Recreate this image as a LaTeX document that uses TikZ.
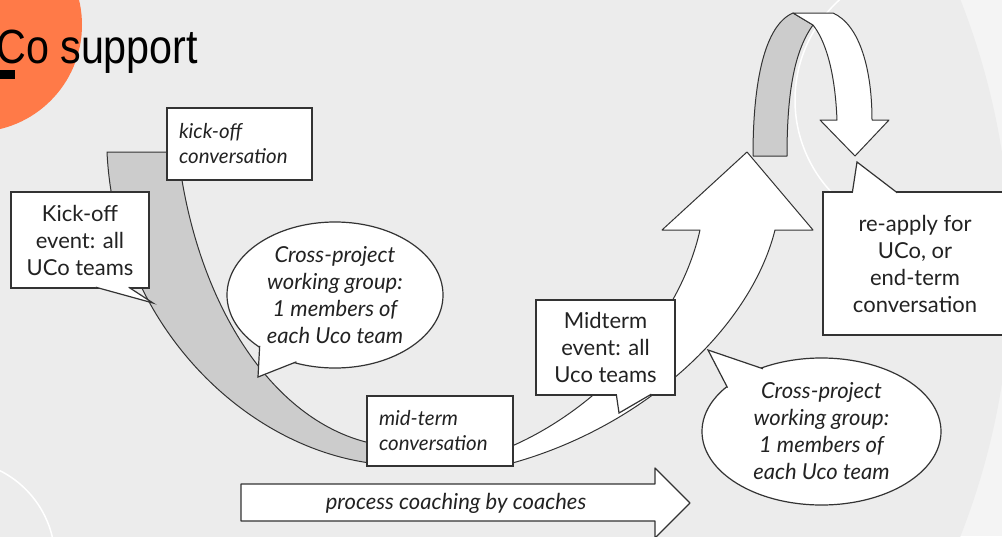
\documentclass[tikz,border=0pt]{standalone}
\usepackage{fontspec}
\setmainfont{Lato}
\newfontfamily\titlefont[FakeStretch=0.86]{Liberation Sans}
\usepackage{tikz}
\usetikzlibrary{calc,shapes.geometric}

\definecolor{bgin}{RGB}{236,236,236}
\definecolor{bgout}{RGB}{244,244,244}
\definecolor{coral}{RGB}{255,122,72}
\definecolor{bandgrey}{RGB}{204,204,204}
\definecolor{linec}{RGB}{51,51,51}
\definecolor{txt}{RGB}{34,34,34}

\begin{document}
\begin{tikzpicture}[x=1pt,y=-1pt,
   ribbon/.style={draw=linec, line width=1pt, line join=round},
   box/.style={draw=linec, fill=white, line width=1.4pt, inner sep=0pt, align=center, text=txt, font=\fontsize{22}{27}\selectfont},
   note/.style={box, inner xsep=12pt, align=left, text width=121pt, font=\itshape\fontsize{20.5}{25}\selectfont},
   bubble/.style={ellipse, draw=linec, fill=white, line width=1.2pt, inner sep=0pt, align=center, text=txt, font=\itshape\fontsize{22}{27}\selectfont, minimum height=146pt},
   tail/.style={draw=linec, fill=white, line width=1.2pt, line join=miter}]
   \useasboundingbox (0,0) rectangle (1002,536);
   \fill[bgout] (0,0) rectangle (1002,536);
   \begin{scope}
      \clip (0,0) rectangle (1002,536);
      \fill[bgin] (277,268) circle [radius=734pt];
      \draw[white, line width=1.5pt] (930,100) circle [radius=135pt];
      \draw[white, line width=1.5pt] (-45,560) circle [radius=100pt];
      \fill[coral] (-25,25) circle [radius=107pt];
   \end{scope}
   \node[anchor=base west, inner sep=0pt, font=\titlefont\fontsize{48}{52}\selectfont] (title) at (-4,63) {Co support};
   \fill[black] (0,70) rectangle (15,79);

   % the ribbon: back side grey, front side white
   \draw[ribbon, fill=bandgrey] (107,152) -- (178,152) .. controls (195,300) and (270,420) .. (370,443)
      -- (370,463) .. controls (240,445) and (115,320) .. (107,152) -- cycle;
   \draw[ribbon, fill=white] (505,449) .. controls (600,410) and (680,320) .. (700,230)
      -- (662,230) -- (747,152) -- (813,230) -- (775,230) .. controls (750,330) and (640,430) .. (505,465) -- cycle;
   \draw[ribbon, fill=bandgrey] (753,156) .. controls (753,80) and (765,25) .. (793,13)
      -- (813,25) .. controls (795,50) and (787,90) .. (787,156) -- cycle;
   \draw[ribbon, fill=white] (793,13) -- (833,13) .. controls (860,25) and (872,70) .. (872,120)
      -- (889,120) -- (855,156) -- (820,120) -- (837,120) .. controls (835,70) and (825,40) .. (813,25) -- cycle;

   \coordinate (kicktip) at (153,303);
   \coordinate (xtip1) at (258,377);
   \coordinate (midtip) at (619,413);
   \coordinate (xtip2) at (708,350);
   \coordinate (reapplytip) at (857,162);

   \node[note, minimum height=72pt] (kickconv) at (239.5,144) {kick-off\\conversation};
   \node[box, minimum width=138pt, minimum height=96pt] (kickev) at (80,240) {Kick-off\\event: all\\UCo teams};
   \draw[tail] ([xshift=-54pt,yshift=1.5pt]kickev.south east) -- (kicktip) -- ([xshift=-21pt,yshift=1.5pt]kickev.south east);

   \node[bubble, minimum width=216pt] (xproj1) at (335,295) {Cross-project\\working group:\\1 members of\\each Uco team};
   \draw[tail] ($(xproj1.214)!2pt!(xproj1.center)$) -- (xtip1) -- ($(xproj1.240)!2pt!(xproj1.center)$);

   \node[note, text width=122pt, minimum height=70pt] (midconv) at (440,431) {mid-term\\conversation};

   \node[box, minimum width=139pt, minimum height=95pt] (midev) at (605.5,347.5) {Midterm\\event: all\\Uco teams};
   \draw[tail] ([xshift=81pt,yshift=1.5pt]midev.south west) -- (midtip) -- ([xshift=116pt,yshift=1.5pt]midev.south west);

   \node[bubble, minimum width=239pt, minimum height=147pt] (xproj2) at (821.5,431.5) {Cross-project\\working group:\\1 members of\\each Uco team};
   \draw[tail] ($(xproj2.133)!2pt!(xproj2.center)$) -- (xtip2) -- ($(xproj2.155)!2pt!(xproj2.center)$);

   \node[box, minimum width=184pt, minimum height=143pt] (reapply) at (915,263.5) {re-apply for\\UCo, or\\end-term\\conversation};
   \draw[tail] ([xshift=30pt,yshift=-1.5pt]reapply.north west) -- (reapplytip) -- ([xshift=75pt,yshift=-1.5pt]reapply.north west);

   \draw[ribbon, line width=1.2pt, fill=white] (241,484) -- (655,484) -- (655,468) -- (690,503)
      -- (655,538) -- (655,521) -- (241,521) -- cycle;
   \node[font=\itshape\fontsize{22}{27}\selectfont, text=txt] (coach) at (456,503) {process coaching by coaches};
\end{tikzpicture}
\end{document}
